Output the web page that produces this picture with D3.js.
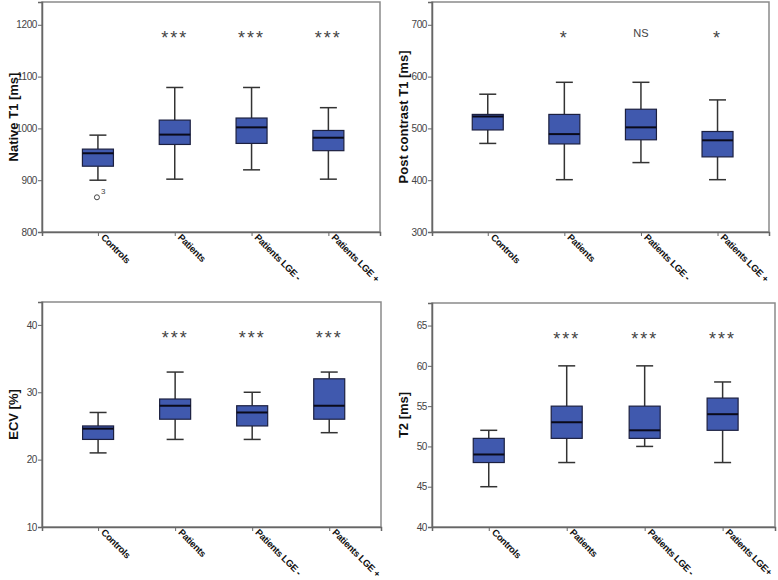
<!DOCTYPE html>
<html>
<head>
<meta charset="utf-8">
<script src="https://cdn.jsdelivr.net/npm/d3@7"></script>
<style>
  body { margin: 0; background: #fff; }
  svg { display: block; font-family: "Liberation Sans", Arial, sans-serif; }
</style>
</head>
<body>
<svg id="chart" width="778" height="580"></svg>
<script>
// groups shared by every panel
const groups = ['Controls', 'Patients', 'Patients LGE -', 'Patients LGE +'];
const groupsT2 = ['Controls', 'Patients', 'Patients LGE -', 'Patients LGE+'];

// five-number summaries: [low whisker, q1, median, q3, high whisker]
const nativeT1 = [
    [900, 927, 952, 960, 987],
    [902, 969, 988, 1016, 1079],
    [920, 971, 1002, 1020, 1079],
    [902, 957, 982, 996, 1040]
];
const postT1 = [
    [471, 497, 523, 527, 566],
    [401, 470, 489, 527, 589],
    [434, 478, 502, 537, 589],
    [401, 445, 477, 494, 555]
];
const ecv = [
    [21, 23, 24.6, 25, 27],
    [23, 26, 28, 29, 33],
    [23, 25, 27, 28, 30],
    [24, 26, 28, 32, 33]
];
const t2 = [
    [45, 48, 49, 51, 52],
    [48, 51, 53, 55, 60],
    [50, 51, 52, 55, 60],
    [48, 52, 54, 56, 58]
];

// outliers: [group index, value, case label]
const nativeT1Outliers = [[0, 867, '3']];

// significance vs controls
const sigNative = ['', '***', '***', '***'];
const sigPost = ['', '*', 'NS', '*'];
const sigEcv = ['', '***', '***', '***'];
const sigT2 = ['', '***', '***', '***'];

// axis ranges and ticks
const nativeTicks = [800, 900, 1000, 1100, 1200];
const postTicks = [300, 400, 500, 600, 700];
const ecvTicks = [10, 20, 30, 40];
const t2Ticks = [40, 45, 50, 55, 60, 65];

const svg = d3.select('#chart');

const panels = [
    { box: [42, 2, 380, 232], title: 'Native T1 [ms]', cats: groups, stats: nativeT1, sig: sigNative,
      domain: [800, 1244], ticks: nativeTicks, outliers: nativeT1Outliers },
    { box: [432, 2, 769, 232], title: 'Post contrast T1 [ms]', cats: groups, stats: postT1, sig: sigPost,
      domain: [300, 744], ticks: postTicks, outliers: [] },
    { box: [42, 302, 381, 527], title: 'ECV [%]', cats: groups, stats: ecv, sig: sigEcv,
      domain: [10, 43.4], ticks: ecvTicks, outliers: [] },
    { box: [432, 303, 775, 527], title: 'T2 [ms]', cats: groupsT2, stats: t2, sig: sigT2,
      domain: [40, 67.8], ticks: t2Ticks, outliers: [] }
];

const boxWidth = 31, capWidth = 17;

panels.forEach(p => {
    const [x0, y0, x1, y1] = p.box;
    const w = x1 - x0, h = y1 - y0;
    const g = svg.append('g').attr('transform', `translate(${x0},${y0})`);

    const x = d3.scalePoint().domain(p.cats).range([0, w]).padding(0.7).align(0.52);
    const y = d3.scaleLinear().domain(p.domain).range([h, 0]);

    // frame
    g.append('rect')
        .attr('width', w).attr('height', h)
        .attr('fill', 'none').attr('stroke', '#8a8a8a').attr('stroke-width', 1.5);

    // y axis
    const ya = g.append('g').call(d3.axisLeft(y).tickValues(p.ticks).tickSize(4).tickPadding(1).tickFormat(d3.format('d')));
    ya.select('.domain').attr('stroke', '#666').attr('stroke-width', 1.5);
    ya.selectAll('.tick line').attr('stroke', '#666');
    ya.selectAll('.tick text').attr('fill', '#444').attr('font-size', 10)
        .attr('letter-spacing', -0.4);

    // x axis
    const xa = g.append('g').attr('transform', `translate(0,${h})`)
        .call(d3.axisBottom(x).tickSize(4).tickPadding(2));
    xa.select('.domain').attr('stroke', '#666').attr('stroke-width', 1.5);
    xa.selectAll('.tick line').attr('stroke', '#666');
    xa.selectAll('.tick text')
        .attr('fill', '#111').attr('font-size', 9.5).attr('font-weight', 'bold')
        .attr('letter-spacing', -0.3)
        .attr('text-anchor', 'start')
        .attr('dy', null).attr('y', 0)
        .attr('transform', 'translate(2,6) rotate(45)');

    // y title
    g.append('text')
        .attr('transform', `translate(-24,${h / 2}) rotate(-90)`)
        .attr('text-anchor', 'middle')
        .attr('font-size', 13).attr('font-weight', 'bold').attr('fill', '#111')
        .text(p.title);

    // boxes
    const b = g.selectAll('.bx').data(p.stats).join('g').attr('class', 'bx')
        .attr('transform', (d, i) => `translate(${x(p.cats[i])},0)`);

    b.append('line').attr('y1', d => y(d[0])).attr('y2', d => y(d[1]))
        .attr('stroke', '#333').attr('stroke-width', 1.5);
    b.append('line').attr('y1', d => y(d[3])).attr('y2', d => y(d[4]))
        .attr('stroke', '#333').attr('stroke-width', 1.5);
    b.append('line').attr('x1', -capWidth / 2).attr('x2', capWidth / 2)
        .attr('y1', d => y(d[0])).attr('y2', d => y(d[0]))
        .attr('stroke', '#333').attr('stroke-width', 1.5);
    b.append('line').attr('x1', -capWidth / 2).attr('x2', capWidth / 2)
        .attr('y1', d => y(d[4])).attr('y2', d => y(d[4]))
        .attr('stroke', '#333').attr('stroke-width', 1.5);
    b.append('rect')
        .attr('x', -boxWidth / 2).attr('width', boxWidth)
        .attr('y', d => y(d[3])).attr('height', d => y(d[1]) - y(d[3]))
        .attr('fill', '#4059ae').attr('stroke', '#1c2040').attr('stroke-width', 1.2);
    b.append('line').attr('x1', -boxWidth / 2).attr('x2', boxWidth / 2)
        .attr('y1', d => y(d[2])).attr('y2', d => y(d[2]))
        .attr('stroke', '#0a0a1a').attr('stroke-width', 2);

    // significance marks
    const sy = y(p.ticks[p.ticks.length - 1]) + 8;
    g.selectAll('.sig').data(p.sig).join('text').attr('class', 'sig')
        .attr('x', (d, i) => x(p.cats[i])).attr('y', sy)
        .attr('dy', d => d === 'NS' ? '0.35em' : '0.62em')
        .attr('text-anchor', 'middle')
        .attr('fill', '#444')
        .attr('font-size', d => d === 'NS' ? 11 : 18)
        .attr('letter-spacing', d => d === 'NS' ? 0 : 2)
        .text(d => d);

    // outliers
    const o = g.selectAll('.out').data(p.outliers).join('g').attr('class', 'out')
        .attr('transform', d => `translate(${x(p.cats[d[0]]) - 1},${y(d[1])})`);
    o.append('circle').attr('r', 2.5).attr('fill', 'none').attr('stroke', '#444');
    o.append('text').attr('x', 4).attr('y', -3).attr('font-size', 8).attr('fill', '#444').text(d => d[2]);
});
</script>
</body>
</html>
